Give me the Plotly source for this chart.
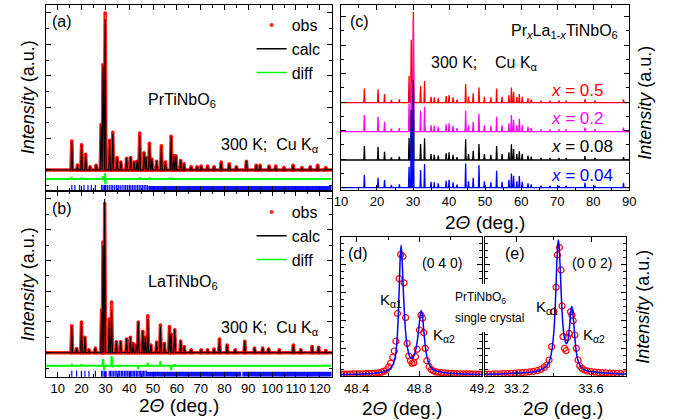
import plotly.graph_objects as go

W, H = 684, 420
FONT = "Liberation Sans, Arial, sans-serif"

# ---------------- data ----------------
# (a) PrTiNbO6 powder: peak positions (deg) and heights (normalised)
a_pos = [15.9, 18.3, 20.0, 21.7, 23.6, 26.1, 28.2, 29.0, 29.9, 31.8, 33.1, 34.9, 36.5, 38.9, 40.6, 42.1, 43.3,
         44.4, 46.2, 47.1, 48.5, 49.5, 51.5, 53.5, 55.2, 57.6, 58.7, 59.6, 61.6, 63.0, 66.0, 68.5, 70.2, 72.9,
         75.6, 78.6, 82.0, 85.0, 89.2, 93.3, 94.9, 98.7, 101.5, 105.0, 108.8, 112.5, 116.0, 119.1, 122.5]
a_calc = [0.18, 0.03, 0.16, 0.10, 0.02, 0.03, 0.28, 0.66, 0.96, 0.19, 0.23, 0.08, 0.05, 0.075, 0.08, 0.05, 0.055,
          0.22, 0.11, 0.08, 0.17, 0.07, 0.055, 0.15, 0.05, 0.21, 0.09, 0.09, 0.06, 0.04, 0.02, 0.02, 0.025, 0.025,
          0.02, 0.05, 0.04, 0.02, 0.055, 0.03, 0.03, 0.025, 0.025, 0.015, 0.03, 0.015, 0.02, 0.03, 0.015]
a_obs = [0.185, 0.032, 0.16, 0.10, 0.02, 0.03, 0.29, 0.67, 1.00, 0.19, 0.24, 0.08, 0.05, 0.075, 0.08, 0.05, 0.055,
         0.235, 0.11, 0.08, 0.17, 0.07, 0.055, 0.155, 0.05, 0.215, 0.09, 0.09, 0.06, 0.04, 0.02, 0.02, 0.025, 0.025,
         0.02, 0.05, 0.04, 0.02, 0.055, 0.03, 0.03, 0.025, 0.025, 0.015, 0.03, 0.015, 0.02, 0.03, 0.015]
a_diff_pos = [15.9, 20.0, 29.0, 29.8, 30.0, 44.4, 48.5, 57.6]
a_diff_val = [0.012, 0.008, 0.015, 0.035, -0.035, 0.01, 0.01, 0.008]
a_diff_base = -0.057
a_bragg = [15.9, 17.2, 19.2, 21.0, 22.7, 24.1, 25.8, 28.4, 29.0, 29.6, 30.1, 30.8, 31.6, 32.4, 33.1, 33.9, 34.7,
           35.4, 36.2, 37.0, 37.8, 38.5, 39.2, 40.0, 40.7, 41.4, 42.1, 42.8, 43.5, 44.2, 44.9, 45.6, 46.3, 47.0, 47.6]
a_bragg_band = [[48.0, 125.0]]
a_bragg_y = -0.118

# (b) LaTiNbO6 powder
b_pos = [15.9, 17.9, 19.95, 21.4, 23.1, 25.8, 28.4, 29.0, 29.7, 31.6, 32.6, 34.6, 36.4, 38.9, 40.5, 41.7, 43.0,
         43.8, 45.7, 46.7, 47.8, 49.1, 51.5, 53.1, 54.8, 56.9, 57.6, 59.1, 61.6, 63.1, 66.0, 70.2, 72.9, 75.6,
         77.9, 81.1, 84.5, 88.5, 92.6, 96.0, 98.5, 103.0, 108.9, 112.0, 116.8, 119.5, 122.5]
b_calc = [0.17, 0.028, 0.19, 0.10, 0.02, 0.03, 0.27, 0.70, 1.00, 0.21, 0.28, 0.072, 0.072, 0.09, 0.10, 0.06, 0.05,
          0.20, 0.14, 0.10, 0.22, 0.05, 0.07, 0.17, 0.06, 0.17, 0.12, 0.15, 0.076, 0.04, 0.02, 0.02, 0.02, 0.025,
          0.09, 0.05, 0.02, 0.075, 0.03, 0.03, 0.025, 0.02, 0.05, 0.02, 0.04, 0.035, 0.015]
b_obs = [0.175, 0.028, 0.20, 0.10, 0.02, 0.03, 0.28, 0.72, 0.97, 0.22, 0.33, 0.072, 0.072, 0.09, 0.10, 0.06, 0.05,
         0.20, 0.14, 0.10, 0.24, 0.05, 0.07, 0.18, 0.06, 0.17, 0.12, 0.15, 0.076, 0.04, 0.02, 0.02, 0.02, 0.025,
         0.09, 0.05, 0.02, 0.075, 0.03, 0.03, 0.025, 0.02, 0.05, 0.02, 0.04, 0.035, 0.015]
b_diff_pos = [15.9, 20.0, 29.0, 29.5, 32.6, 33.0, 43.8, 47.8, 53.1, 57.6, 59.1]
b_diff_val = [0.012, 0.01, 0.044, -0.028, 0.063, -0.01, -0.021, 0.02, 0.03, -0.028, 0.01]
b_diff_base = -0.085
b_bragg = [15.9, 17.9, 19.95, 21.4, 23.1, 25.8, 28.4, 29.0, 29.7, 30.3, 31.6, 32.2, 32.8, 33.5, 34.1, 34.8, 35.4,
           36.0, 36.7, 37.3, 38.0, 38.6, 39.2, 39.9, 40.5, 41.1, 41.7, 42.3, 43.0, 43.6, 44.2, 44.8, 45.4, 46.0,
           46.6, 47.2]
b_bragg_band = [[47.5, 87.0], [87.5, 125.0]]
b_bragg_y = -0.140

# (c) PrxLa1-xTiNbO6 series (stacked)
c_pos = [16.5, 20.3, 22.1, 24.0, 26.2, 28.9, 29.5, 30.1, 32.1, 33.2, 35.0, 35.9, 37.0, 39.2, 40.0, 41.1, 42.2,
         44.6, 45.4, 46.7, 48.3, 49.8, 51.6, 53.2, 54.7, 56.6, 57.3, 57.9, 58.8, 59.5, 60.3, 61.9, 62.8, 65.5,
         68.0, 70.5, 72.5, 77.7, 80.5, 88.4]
c_h_x05 = [14.3, 13.3, 8.7, 2.7, 3.3, 26.7, 63.0, 91.0, 16.7, 21.7, 6.0, 5.3, 4.3, 6.7, 7.7, 5.3, 3.0,
           18.7, 6.0, 9.3, 15.3, 6.0, 5.3, 14.3, 6.0, 7.7, 15.3, 11.0, 6.0, 8.7, 6.0, 4.3, 3.3, 2.0,
           2.0, 2.0, 2.0, 3.3, 2.0, 3.3]
c_h_x02 = [16.7, 15.0, 10.0, 3.0, 3.5, 28.0, 50.0, 113.0, 21.0, 25.0, 6.5, 6.0, 5.0, 7.5, 8.5, 6.0, 3.5,
           21.0, 6.5, 10.0, 17.7, 6.5, 6.0, 15.0, 6.5, 8.5, 16.7, 12.0, 6.5, 13.0, 6.5, 5.0, 3.5, 2.2,
           2.2, 2.2, 2.2, 4.0, 2.2, 4.0]
c_h_x008 = [14.0, 13.3, 8.3, 2.7, 3.3, 22.3, 50.0, 80.0, 16.0, 21.7, 6.0, 5.3, 4.3, 6.7, 7.7, 5.3, 3.0,
            20.7, 6.0, 9.3, 16.0, 6.0, 5.3, 14.0, 6.0, 7.7, 15.7, 11.0, 6.0, 8.7, 6.0, 4.3, 3.3, 2.0,
            2.0, 2.0, 2.0, 4.0, 2.0, 3.0]
c_h_x004 = [12.7, 10.0, 7.7, 2.7, 3.3, 21.0, 60.0, 98.0, 17.7, 23.7, 6.0, 5.3, 4.3, 7.0, 8.0, 5.3, 3.0,
            24.3, 6.5, 10.0, 22.7, 6.5, 5.3, 17.0, 6.0, 8.0, 14.3, 12.0, 6.5, 11.7, 6.0, 4.3, 3.3, 2.0,
            2.0, 2.0, 2.0, 5.0, 2.0, 5.0]
c_labels = ["0.5", "0.2", "0.08", "0.04"]
c_offsets = [86.8, 57.8, 29.5, 1.8]
c_colors = ["#ff0000", "#ff00ff", "#000000", "#0000ff"]

# (d) single crystal (0 4 0)
d_obs_x = [48.30, 48.32, 48.34, 48.36, 48.38, 48.40, 48.42, 48.44, 48.46, 48.48, 48.50, 48.52, 48.54, 48.56,
           48.575, 48.59, 48.605, 48.617, 48.630, 48.640, 48.650, 48.660, 48.671, 48.681, 48.695, 48.702, 48.712,
           48.722, 48.732, 48.743, 48.753, 48.765, 48.775, 48.786, 48.800, 48.810, 48.820, 48.827, 48.837, 48.847,
           48.862, 48.876, 48.89, 48.905, 48.92, 48.94, 48.96, 48.98, 49.00, 49.02, 49.04, 49.06, 49.08, 49.10,
           49.12, 49.14, 49.16, 49.18, 49.20]
d_obs_y = [0.013, 0.013, 0.014, 0.014, 0.015, 0.015, 0.016, 0.016, 0.017, 0.018, 0.019, 0.021, 0.023, 0.028,
           0.034, 0.045, 0.065, 0.092, 0.135, 0.18, 0.25, 0.45, 0.70, 0.875, 0.86, 0.67, 0.42,
           0.235, 0.144, 0.11, 0.091, 0.096, 0.139, 0.192, 0.331, 0.439, 0.415, 0.312, 0.199, 0.11,
           0.067, 0.045, 0.036, 0.03, 0.027, 0.024, 0.022, 0.02, 0.019, 0.018, 0.017, 0.016, 0.016, 0.015,
           0.015, 0.014, 0.014, 0.013, 0.013]
d_fit_x = [48.30, 48.40, 48.50, 48.55, 48.58, 48.60, 48.62, 48.635, 48.645, 48.655, 48.665, 48.672, 48.678,
           48.683, 48.688, 48.694, 48.70, 48.708, 48.716, 48.725, 48.735, 48.745, 48.755, 48.765, 48.775, 48.785,
           48.795, 48.803, 48.808, 48.812, 48.817, 48.823, 48.830, 48.838, 48.848, 48.86, 48.875, 48.89, 48.92,
           48.96, 49.02, 49.10, 49.20]
d_fit_y = [0.010, 0.013, 0.018, 0.025, 0.033, 0.042, 0.06, 0.09, 0.13, 0.22, 0.42, 0.66, 0.86,
           0.94, 0.88, 0.72, 0.55, 0.38, 0.27, 0.195, 0.15, 0.128, 0.127, 0.145, 0.18, 0.24,
           0.33, 0.42, 0.46, 0.47, 0.45, 0.39, 0.30, 0.21, 0.14, 0.09, 0.06, 0.045, 0.032,
           0.024, 0.018, 0.014, 0.011]

# (e) single crystal (0 0 2)
e_obs_x = [33.03, 33.05, 33.07, 33.09, 33.11, 33.13, 33.15, 33.17, 33.19, 33.21, 33.23, 33.25, 33.27, 33.29,
           33.31, 33.33, 33.348, 33.362, 33.374, 33.388, 33.400, 33.412, 33.419, 33.430, 33.438, 33.444, 33.449,
           33.457, 33.466, 33.474, 33.483, 33.490, 33.497, 33.504, 33.513, 33.521, 33.530, 33.539, 33.551, 33.565,
           33.58, 33.60, 33.62, 33.64, 33.66, 33.68, 33.70, 33.72, 33.74, 33.76, 33.78]
e_obs_y = [0.013, 0.014, 0.014, 0.015, 0.016, 0.017, 0.018, 0.019, 0.021, 0.023, 0.025, 0.027, 0.030, 0.033,
           0.038, 0.048, 0.062, 0.079, 0.115, 0.211, 0.463, 0.638, 0.871, 0.924, 0.763, 0.504, 0.283,
           0.199, 0.182, 0.278, 0.307, 0.463, 0.439, 0.398, 0.295, 0.199, 0.115, 0.074, 0.055, 0.043,
           0.036, 0.031, 0.028, 0.026, 0.024, 0.022, 0.020, 0.019, 0.018, 0.017, 0.016]
e_fit_x = [33.03, 33.10, 33.18, 33.25, 33.30, 33.33, 33.355, 33.37, 33.38, 33.39, 33.40, 33.408, 33.415, 33.420,
           33.424, 33.428, 33.434, 33.440, 33.447, 33.455, 33.462, 33.468, 33.475, 33.482, 33.489, 33.494,
           33.497, 33.501, 33.507, 33.514, 33.522, 33.532, 33.545, 33.56, 33.58, 33.62, 33.68, 33.74, 33.79]
e_fit_y = [0.012, 0.015, 0.019, 0.025, 0.033, 0.045, 0.065, 0.09, 0.125, 0.19, 0.32, 0.52, 0.78, 0.93,
           0.978, 0.94, 0.78, 0.58, 0.40, 0.29, 0.245, 0.232, 0.25, 0.32, 0.43, 0.49,
           0.50, 0.47, 0.38, 0.26, 0.16, 0.10, 0.066, 0.048, 0.037, 0.028, 0.021, 0.017, 0.015]

AB_RANGE = [5, 125]


# ---------------- helpers ----------------
def spikes(pos, hts, w, base, xmin, xmax):
    xs, ys = [xmin], [base]
    for p, h in zip(pos, hts):
        xs += [p - w, p, p + w]
        ys += [base, base + h, base]
    xs.append(xmax)
    ys.append(base)
    return xs, ys


def ann(text, x, y, size, color="black", xanchor="left", yanchor="middle", angle=0):
    return dict(text=text, x=x / W, y=1 - y / H, xref="paper", yref="paper", showarrow=False,
                xanchor=xanchor, yanchor=yanchor, textangle=angle,
                font=dict(family=FONT, size=size, color=color))


def axis(domain, rng, anchor, labels=True, dtick=None, tick0=None, minor_dtick=None, **kw):
    d = dict(domain=domain, range=rng, anchor=anchor, showline=True, linecolor="black", linewidth=1,
             mirror="ticks", ticks="inside", ticklen=5, tickwidth=1, tickcolor="black",
             showgrid=False, zeroline=False, showticklabels=labels,
             tickfont=dict(family=FONT, size=13, color="black"))
    if dtick is not None:
        d["dtick"] = dtick
        d["tick0"] = tick0 if tick0 is not None else 0
    if minor_dtick is not None:
        d["minor"] = dict(ticks="inside", ticklen=3, tickwidth=1, tickcolor="black",
                          dtick=minor_dtick, tick0=tick0 if tick0 is not None else 0, showgrid=False)
    d.update(kw)
    return d


fig = go.Figure()


def powder(xa, ya, pos, obs, calc, dpos, dval, dbase, bragg, bands, by, legend):
    ox, oy = spikes(pos, obs, 0.35, 0.0, AB_RANGE[0], AB_RANGE[1])
    fig.add_trace(go.Scatter(x=ox, y=oy, mode="lines+markers", xaxis=xa, yaxis=ya, showlegend=False,
                             line=dict(color="#ff2020", width=3.5),
                             marker=dict(color="#ff0000", size=3.5, symbol="circle")))
    cx, cy = spikes(pos, calc, 0.35, 0.0, AB_RANGE[0], AB_RANGE[1])
    fig.add_trace(go.Scatter(x=cx, y=cy, mode="lines", xaxis=xa, yaxis=ya, showlegend=False,
                             line=dict(color="black", width=1.1)))
    gx, gy = spikes(dpos, dval, 0.2, dbase, AB_RANGE[0], AB_RANGE[1])
    fig.add_trace(go.Scatter(x=gx, y=gy, mode="lines", xaxis=xa, yaxis=ya, showlegend=False,
                             line=dict(color="#00ff00", width=2)))
    fig.add_trace(go.Scatter(x=bragg, y=[by] * len(bragg), mode="markers", xaxis=xa, yaxis=ya,
                             showlegend=False,
                             marker=dict(symbol="line-ns", size=5, color="#0000ff",
                                         line=dict(color="#0000ff", width=1.2))))
    for b in bands:
        fig.add_trace(go.Scatter(x=b, y=[by, by], mode="lines", xaxis=xa, yaxis=ya, showlegend=False,
                                 line=dict(color="#1010ff", width=5)))
    # legend entries
    fig.add_trace(go.Scatter(x=[None], y=[None], mode="markers", name="obs", legend=legend,
                             xaxis=xa, yaxis=ya, marker=dict(color="#ff2020", size=4, symbol="circle")))
    fig.add_trace(go.Scatter(x=[None], y=[None], mode="lines", name="calc", legend=legend,
                             xaxis=xa, yaxis=ya, line=dict(color="black", width=1.5)))
    fig.add_trace(go.Scatter(x=[None], y=[None], mode="lines", name="diff", legend=legend,
                             xaxis=xa, yaxis=ya, line=dict(color="#00ff00", width=1.5)))


powder("x", "y", a_pos, a_obs, a_calc, a_diff_pos, a_diff_val, a_diff_base, a_bragg, a_bragg_band,
       a_bragg_y, "legend")
powder("x2", "y2", b_pos, b_obs, b_calc, b_diff_pos, b_diff_val, b_diff_base, b_bragg, b_bragg_band,
       b_bragg_y, "legend2")

# (c)
for hts, off, col in zip([c_h_x05, c_h_x02, c_h_x008, c_h_x004], c_offsets, c_colors):
    sx, sy = spikes(c_pos, hts, 0.15, off, 10, 90)
    fig.add_trace(go.Scatter(x=sx, y=sy, mode="lines", xaxis="x3", yaxis="y3", showlegend=False,
                             line=dict(color=col, width=1.3)))

# (d), (e)
fig.add_trace(go.Scatter(x=d_obs_x, y=d_obs_y, mode="markers", xaxis="x4", yaxis="y4", showlegend=False,
                         marker=dict(symbol="circle-open", size=6, color="#ff0000", line=dict(width=1.2))))
fig.add_trace(go.Scatter(x=d_fit_x, y=d_fit_y, mode="lines", xaxis="x4", yaxis="y4", showlegend=False,
                         line=dict(color="#0000ff", width=1.5, shape="spline", smoothing=0.5)))
fig.add_trace(go.Scatter(x=e_obs_x, y=e_obs_y, mode="markers", xaxis="x5", yaxis="y5", showlegend=False,
                         marker=dict(symbol="circle-open", size=6, color="#ff0000", line=dict(width=1.2))))
fig.add_trace(go.Scatter(x=e_fit_x, y=e_fit_y, mode="lines", xaxis="x5", yaxis="y5", showlegend=False,
                         line=dict(color="#0000ff", width=1.5, shape="spline", smoothing=0.5)))

# ---------------- layout ----------------
def dom_x(a, b):
    return [a / W, b / W]


def dom_y(top, bottom):
    return [1 - bottom / H, 1 - top / H]


layout = dict(
    width=W, height=H, margin=dict(l=0, r=0, t=0, b=0),
    paper_bgcolor="white", plot_bgcolor="white", showlegend=True,
    xaxis=axis(dom_x(40, 334.5), AB_RANGE, "y", labels=False, dtick=10, tick0=0, minor_dtick=5),
    yaxis=axis(dom_y(4.5, 191), [-0.134, 1.054], "x", labels=False, dtick=0.2, tick0=0, minor_dtick=0.1),
    xaxis2=axis(dom_x(40, 334.5), AB_RANGE, "y2", dtick=10, tick0=0, minor_dtick=5),
    yaxis2=axis(dom_y(191, 376.7), [-0.156, 1.052], "x2", labels=False, dtick=0.2, tick0=0, minor_dtick=0.1),
    xaxis3=axis(dom_x(344, 641), [10, 90], "y3", dtick=10, tick0=0, minor_dtick=5),
    yaxis3=axis(dom_y(4.5, 189.5), [0, 185], "x3", labels=False, dtick=28.5, tick0=1.8, minor_dtick=14.25),
    xaxis4=axis(dom_x(344, 489.5), [48.3, 49.2], "y4", dtick=0.4, tick0=48.4, minor_dtick=0.2),
    yaxis4=axis(dom_y(237, 376), [0, 1.0], "x4", labels=False, dtick=0.2, tick0=0, minor_dtick=0.05),
    xaxis5=axis(dom_x(492.5, 638), [33.03, 33.79], "y5", dtick=0.4, tick0=33.2, minor_dtick=0.2),
    yaxis5=axis(dom_y(237, 376), [0, 1.0], "x5", labels=False, dtick=0.2, tick0=0, minor_dtick=0.05),
    legend=dict(x=252 / W, y=1 - 8 / H, xanchor="left", yanchor="top", bgcolor="rgba(0,0,0,0)",
                font=dict(family=FONT, size=16, color="black"), tracegroupgap=0),
    legend2=dict(x=252 / W, y=1 - 195 / H, xanchor="left", yanchor="top", bgcolor="rgba(0,0,0,0)",
                 font=dict(family=FONT, size=16, color="black"), tracegroupgap=0),
)

NB = "\u00a0"
ititle = "<i>Intensity</i> (a.u.)"
xtitle = "2<i>Θ</i> (deg.)"
annotations = [
    ann("(a)", 57, 21, 16, xanchor="center"),
    ann("PrTiNbO<sub>6</sub>", 143, 100, 16),
    ann("300 K;" + NB * 2 + "Cu K<sub>α</sub>", 218, 145, 16),
    ann("(b)", 57, 208, 16, xanchor="center"),
    ann("LaTiNbO<sub>6</sub>", 143, 282, 16),
    ann("300 K;" + NB * 2 + "Cu K<sub>α</sub>", 218, 328, 16),
    ann(ititle, 22, 97, 18, xanchor="center", angle=-90),
    ann(ititle, 22, 284, 18, xanchor="center", angle=-90),
    ann(xtitle, 177, 405, 19, xanchor="center"),
    ann("(c)", 363, 21, 16, xanchor="center"),
    ann("Pr<sub><i>x</i></sub>La<sub>1-<i>x</i></sub>TiNbO<sub>6</sub>", 517, 32, 16),
    ann("300 K;" + NB * 4 + "Cu K<sub>α</sub>", 435, 63, 16),
    ann(ititle, 657, 103, 18, xanchor="center", angle=-90),
    ann(xtitle, 492, 222, 19, xanchor="center"),
    ann("(d)", 362, 253, 16, xanchor="center"),
    ann("(0 4 0)", 448, 263, 14, xanchor="center"),
    ann("K<sub>α1</sub>", 382, 300, 15),
    ann("K<sub>α2</sub>", 437, 335, 15),
    ann("(e)", 523, 253, 16, xanchor="center"),
    ann("(0 0 2)", 603, 263, 14, xanchor="center"),
    ann("K<sub>α1</sub>", 543, 307, 15),
    ann("K<sub>α2</sub>", 591, 335, 15),
    ann("PrTiNbO<sub>6</sub>", 459, 298, 12),
    ann("single crystal", 459, 318, 12),
    ann(xtitle, 407, 408, 19, xanchor="center"),
    ann(xtitle, 573, 408, 19, xanchor="center"),
    ann(ititle, 655, 307, 18, xanchor="center", angle=-90),
]
for lab, off, col, yy in zip(c_labels, c_offsets, c_colors, [90, 118, 146, 175]):
    annotations.append(ann("<i>x</i> = " + lab, 558, yy, 17, color=col))
layout["annotations"] = annotations

layout["shapes"] = [dict(type="rect", xref="paper", yref="paper", x0=484 / W, x1=498 / W,
                         y0=1 - 332 / H, y1=1 - 284 / H, fillcolor="white", line=dict(width=0),
                         layer="above")]

fig.update_layout(**layout)
fig.write_html("out.html")
